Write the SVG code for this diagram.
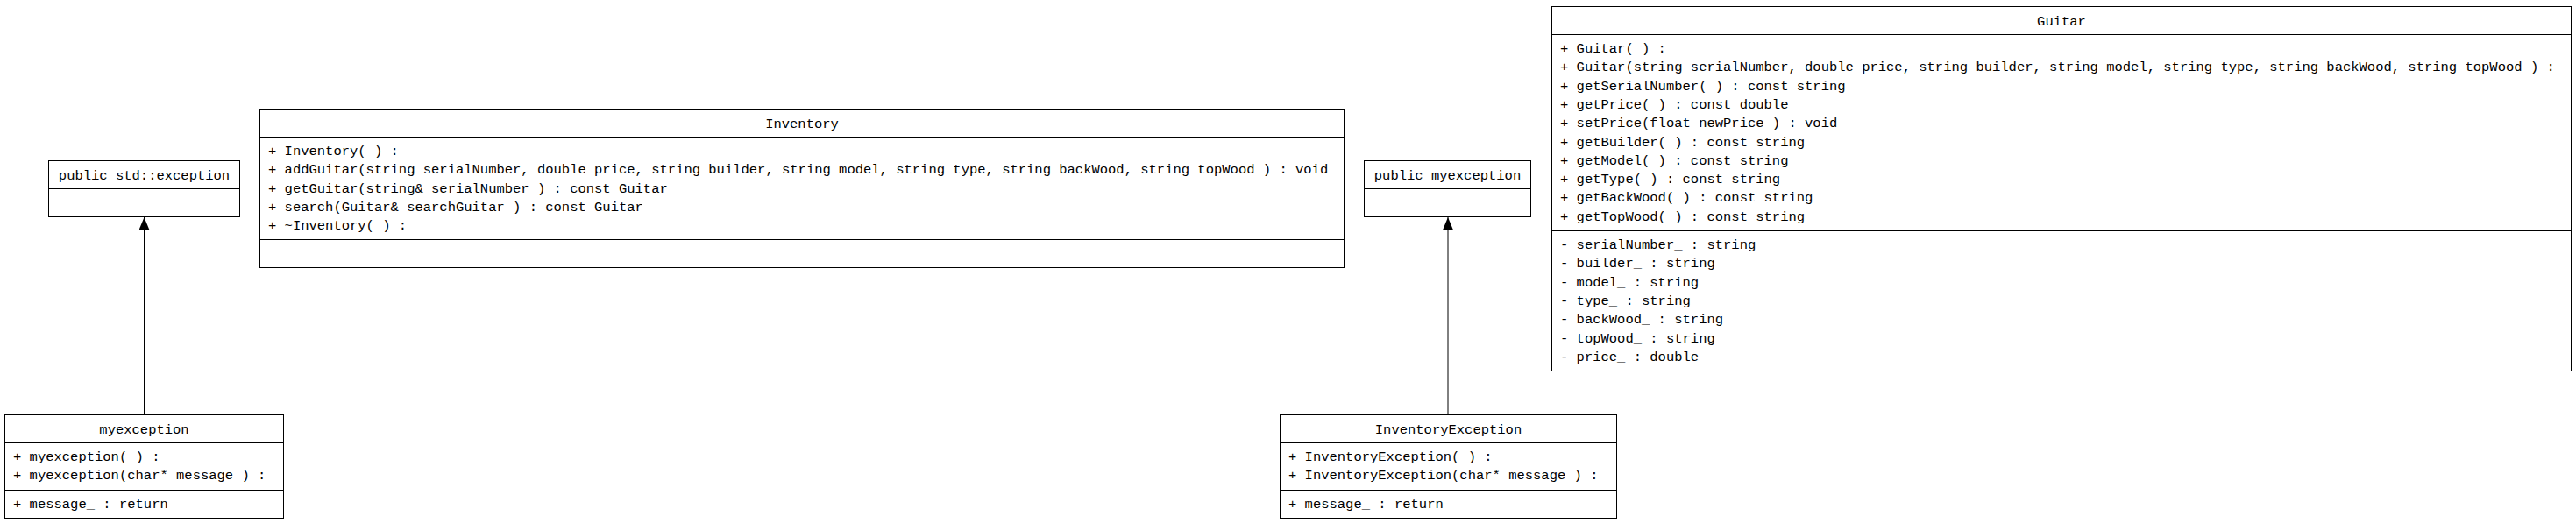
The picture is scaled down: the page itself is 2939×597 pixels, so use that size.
<svg xmlns="http://www.w3.org/2000/svg" width="2939" height="597" viewBox="0 0 2939 597">
<style>
.box{fill:#ffffff;stroke:#000000;stroke-width:1}
.div{stroke:#000000;stroke-width:1}
.t{font-family:"Liberation Mono","Noto Sans CJK SC",monospace;font-size:15.5px;fill:#000000;white-space:pre}
.c{text-anchor:middle}
.edge{stroke:#000000;stroke-width:1;fill:none;marker-end:url(#tri)}
</style>
<defs>
<marker id="tri" markerUnits="userSpaceOnUse" markerWidth="15" markerHeight="12" refX="14.5" refY="6" orient="auto">
<path d="M0,0 L14.5,6 L0,12 Z" fill="#000000"/>
</marker>
</defs>
<rect width="2939" height="597" fill="#ffffff"/>

<g id="connectors">
<line class="edge" x1="164.5" y1="473.5" x2="164.5" y2="248"/>
<line class="edge" x1="1652" y1="473.5" x2="1652" y2="248"/>
</g>

<g id="std_exception">
<rect class="box" x="55.5" y="183.5" width="218" height="64"/>
<line class="div" x1="55.5" y1="215.5" x2="273.5" y2="215.5"/>
<text class="t c" x="164.5" y="205">public std::exception</text>
</g>

<g id="public_myexception">
<rect class="box" x="1556.5" y="183.5" width="190" height="64"/>
<line class="div" x1="1556.5" y1="215.5" x2="1746.5" y2="215.5"/>
<text class="t c" x="1651.5" y="205">public myexception</text>
</g>

<g id="myexception">
<rect class="box" x="5.5" y="473.5" width="318" height="118"/>
<line class="div" x1="5.5" y1="505.5" x2="323.5" y2="505.5"/>
<line class="div" x1="5.5" y1="559.5" x2="323.5" y2="559.5"/>
<text class="t c" x="164.5" y="495">myexception</text>
<text class="t" x="15" y="526">+ myexception( ) :</text>
<text class="t" x="15" y="547.3">+ myexception(char* message ) :</text>
<text class="t" x="15" y="580">+ message_ : return</text>
</g>

<g id="InventoryException">
<rect class="box" x="1460.5" y="473.5" width="384" height="118"/>
<line class="div" x1="1460.5" y1="505.5" x2="1844.5" y2="505.5"/>
<line class="div" x1="1460.5" y1="559.5" x2="1844.5" y2="559.5"/>
<text class="t c" x="1652.5" y="495">InventoryException</text>
<text class="t" x="1470" y="526">+ InventoryException( ) :</text>
<text class="t" x="1470" y="547.3">+ InventoryException(char* message ) :</text>
<text class="t" x="1470" y="580">+ message_ : return</text>
</g>

<g id="Inventory">
<rect class="box" x="296.5" y="124.5" width="1237" height="181"/>
<line class="div" x1="296.5" y1="156.5" x2="1533.5" y2="156.5"/>
<line class="div" x1="296.5" y1="273.5" x2="1533.5" y2="273.5"/>
<text class="t c" x="915" y="146">Inventory</text>
<text class="t" x="306" y="177">+ Inventory( ) :</text>
<text class="t" x="306" y="198.3">+ addGuitar(string serialNumber, double price, string builder, string model, string type, string backWood, string topWood ) : void</text>
<text class="t" x="306" y="219.6">+ getGuitar(string&amp; serialNumber ) : const Guitar</text>
<text class="t" x="306" y="240.9">+ search(Guitar&amp; searchGuitar ) : const Guitar</text>
<text class="t" x="306" y="262.2">+ ~Inventory( ) :</text>
</g>

<g id="Guitar">
<rect class="box" x="1770.5" y="7.5" width="1163" height="416"/>
<line class="div" x1="1770.5" y1="39.5" x2="2933.5" y2="39.5"/>
<line class="div" x1="1770.5" y1="263.5" x2="2933.5" y2="263.5"/>
<text class="t c" x="2352" y="29">Guitar</text>
<text class="t" x="1780" y="60">+ Guitar( ) :</text>
<text class="t" x="1780" y="81.3">+ Guitar(string serialNumber, double price, string builder, string model, string type, string backWood, string topWood ) :</text>
<text class="t" x="1780" y="102.6">+ getSerialNumber( ) : const string</text>
<text class="t" x="1780" y="123.9">+ getPrice( ) : const double</text>
<text class="t" x="1780" y="145.2">+ setPrice(float newPrice ) : void</text>
<text class="t" x="1780" y="166.5">+ getBuilder( ) : const string</text>
<text class="t" x="1780" y="187.8">+ getModel( ) : const string</text>
<text class="t" x="1780" y="209.1">+ getType( ) : const string</text>
<text class="t" x="1780" y="230.4">+ getBackWood( ) : const string</text>
<text class="t" x="1780" y="251.7">+ getTopWood( ) : const string</text>
<text class="t" x="1780" y="284">- serialNumber_ : string</text>
<text class="t" x="1780" y="305.3">- builder_ : string</text>
<text class="t" x="1780" y="326.6">- model_ : string</text>
<text class="t" x="1780" y="347.9">- type_ : string</text>
<text class="t" x="1780" y="369.2">- backWood_ : string</text>
<text class="t" x="1780" y="390.5">- topWood_ : string</text>
<text class="t" x="1780" y="411.8">- price_ : double</text>
</g>
</svg>
